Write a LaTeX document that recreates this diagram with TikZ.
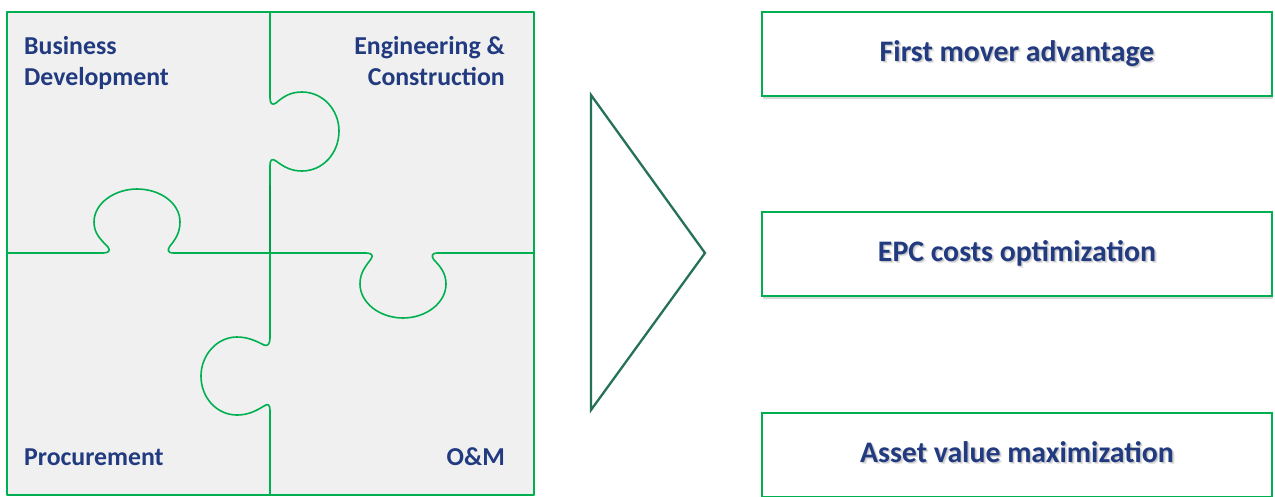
\documentclass[tikz,border=0pt]{standalone}
\usepackage{fontspec}
\setmainfont{Carlito}
\usetikzlibrary{shadows}

\definecolor{pzgreen}{RGB}{0,176,80}
\definecolor{pzfill}{RGB}{240,240,240}
\definecolor{navy}{RGB}{33,58,128}
\definecolor{arrowgreen}{RGB}{38,114,86}

% text with a soft grey shadow below right
\newcommand{\shadowed}[1]{%
  \rlap{\hspace{2.2pt}\raisebox{-2.2pt}{\color{black!10}#1}}%
  \rlap{\hspace{1.2pt}\raisebox{-1.2pt}{\color{black!22}#1}}#1}

\tikzset{
  puzzleline/.style={draw=pzgreen, line width=1.6pt, line join=round},
  piecelabel/.style={font=\fontsize{25.8}{31}\selectfont\bfseries, text=navy, inner sep=0pt},
  resultbox/.style={draw=pzgreen, line width=1.3pt, fill=white,
    minimum width=510pt, minimum height=84pt, inner sep=0pt,
    font=\fontsize{29.8}{35}\selectfont\bfseries, text=navy,
    text height=20pt, text depth=5pt,
    drop shadow={shadow xshift=1pt, shadow yshift=-2.5pt, opacity=0.25, fill=black!60}},
  arrowline/.style={draw=arrowgreen, line width=2.3pt, line join=miter}
}

\begin{document}
\begin{tikzpicture}[x=1pt, y=-1pt]
\useasboundingbox (0,0) rectangle (1275,496);

% ---- puzzle square ----
\fill[pzfill] (7,12) rectangle (534,495);
\draw[puzzleline] (7,12) rectangle (534,495);

% vertical seam with two tabs
\draw[puzzleline] (270,12) -- (270,98)
  .. controls (270,103) and (272,106) .. (276,103)
  .. controls (284,96) and (291,92) .. (302,92)
  .. controls (323,92) and (339,110) .. (339,131)
  .. controls (339,153) and (323,171) .. (302,171)
  .. controls (291,171) and (284,167) .. (276,161)
  .. controls (272,158) and (270,160) .. (270,165)
  -- (270,338)
  .. controls (270,343) and (268,347) .. (264,345)
  .. controls (256,341) and (248,337) .. (237,337)
  .. controls (217,337) and (201,355) .. (201,376)
  .. controls (201,398) and (217,415) .. (237,415)
  .. controls (248,415) and (256,411) .. (264,406)
  .. controls (268,403) and (270,405) .. (270,410)
  -- (270,495);
\draw[pzgreen!90!black, line width=2.2pt] (270,185) -- (270,252);

% horizontal seam with two tabs
\draw[puzzleline] (7,253) -- (103,253)
  .. controls (108,253) and (111,251) .. (108,247)
  .. controls (100,239) and (94,233) .. (94,222)
  .. controls (94,203) and (115,189) .. (137,189)
  .. controls (160,189) and (180,203) .. (180,222)
  .. controls (180,233) and (175,240) .. (170,246)
  .. controls (167,250) and (168,253) .. (173,253)
  -- (366,253)
  .. controls (371,253) and (374,255) .. (371,259)
  .. controls (365,267) and (360,273) .. (360,284)
  .. controls (360,303) and (380,318) .. (403,318)
  .. controls (426,318) and (446,303) .. (446,284)
  .. controls (446,273) and (440,266) .. (434,260)
  .. controls (431,256) and (432,253) .. (437,253)
  -- (534,253);

% piece labels
\node[piecelabel, anchor=north west, align=left] (bd) at (24,36) {Business\\Development};
\node[piecelabel, anchor=north east, align=right] (ec) at (505,36) {Engineering \&\\Construction};
\node[piecelabel, anchor=base west] (proc) at (24,465) {Procurement};
\node[piecelabel, anchor=base east] (om) at (505,465) {O\&M};

% ---- arrow head ----
\draw[arrowline] (591,95) -- (705,253) -- (591,410) -- cycle;

% ---- outcomes ----
\node[resultbox] (first) at (1017,54) {\shadowed{First mover advantage}};
\node[resultbox] (epc) at (1017,254) {\shadowed{EPC costs optimization}};
\node[resultbox] (asset) at (1017,455) {\shadowed{Asset value maximization}};
\end{tikzpicture}
\end{document}
